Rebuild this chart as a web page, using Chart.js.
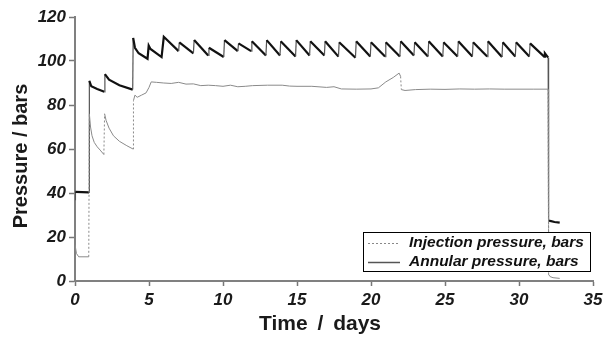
<!DOCTYPE html>
<html>
<head>
<meta charset="utf-8">
<script src="https://cdn.jsdelivr.net/npm/chart.js@4.4.1/dist/chart.umd.min.js"></script>
<style>
  html, body { margin: 0; padding: 0; background: #fff; }
  #caja { width: 609px; height: 338px; }
</style>
</head>
<body>
<div id="caja"><canvas id="grafico" width="609" height="338"></canvas></div>
<script>
// Presión anular (línea negra)
const diasAnular = [0, 0.03, 0.95, 0.97, 1.1, 1.5, 1.98, 2.02, 2.3, 3.0, 3.9, 3.93, 4.05, 4.3, 4.9, 4.98, 5.1, 5.85,
  6.0, 7.0, 7.05, 8.0, 8.05, 9.0, 9.05, 10.05, 10.1, 11.0, 11.05, 11.9, 11.95, 12.9, 12.95, 13.85, 13.9,
  14.9, 14.95, 15.85, 15.9, 16.85, 16.9, 17.8, 17.85, 18.95, 19.0, 19.95, 20.0, 20.95, 21.0, 21.95, 22.0,
  22.9, 22.95, 23.85, 23.9, 24.85, 24.9, 25.85, 25.9, 26.85, 26.9, 27.85, 27.9, 28.85, 28.9, 29.75, 29.8,
  30.7, 30.75, 31.7, 31.75, 31.97, 32.0, 32.1, 32.4, 32.75];
const presionAnular = [37, 40.5, 40.3, 91, 88.5, 87.3, 86, 94, 91.5, 89, 87, 110.5, 106, 103.5, 101, 107, 105.5, 101.8,
  111, 104.5, 108.5, 103.5, 109.5, 102.5, 106, 101.8, 109.5, 104.5, 108, 104.5, 109, 102.5, 109.5, 102.5, 109,
  102, 109.5, 102.5, 109, 102.5, 109, 102, 108.5, 101.5, 109, 102, 108.5, 102, 108.5, 102, 109,
  102.5, 108.5, 102, 109, 102, 108.5, 102, 109, 102, 108.5, 102, 109, 101.8, 108.5, 102, 108.5,
  102, 108, 102, 103.5, 101.5, 27.5, 27.3, 26.8, 26.5];

// Presión de inyección (línea gris punteada)
const diasInyeccion = [0, 0.1, 0.25, 0.93, 0.97, 1.05, 1.15, 1.3, 1.5, 1.7, 1.95, 2.0, 2.1, 2.3, 2.6, 3.0, 3.5, 3.92,
  3.95, 4.05, 4.2, 4.5, 4.8, 5.0, 5.15, 5.5, 6.0, 6.5, 7.0, 7.5, 8.0, 8.5, 9.0, 9.5, 10.0, 10.5, 11.0, 11.5,
  12.0, 13.0, 14.0, 14.5, 15.0, 16.0, 17.0, 17.5, 18.0, 19.0, 20.0, 20.5, 21.0, 21.5, 21.9, 22.0, 22.05,
  22.3, 23, 24, 25, 26, 27, 28, 29, 30, 31, 31.97, 32.0, 32.1, 32.3, 32.75];
const presionInyeccion = [16.5, 12.5, 11, 11, 76, 70, 66, 63, 61, 59.5, 57.5, 76, 73, 69.5, 66, 63.5, 61.5, 60,
  82, 84.5, 83.5, 84.5, 85.5, 88, 90.5, 90.3, 90, 89.8, 90.3, 89.5, 89.6, 88.8, 89, 88.8, 88.5, 89, 88.3, 88.5,
  88.8, 89, 89, 88.6, 88.5, 88.5, 88, 88.3, 87.3, 87.2, 87.3, 87.8, 90.5, 92.5, 94.5, 93, 87,
  86.6, 87, 87.2, 87.1, 87.3, 87.2, 87.3, 87.2, 87.2, 87.2, 87.2, 3, 2, 1.5, 1.2];

const ticksX = [0, 5, 10, 15, 20, 25, 30, 35];
const ticksY = [0, 20, 40, 60, 80, 100, 120];
const tituloX = "Time / days";
const tituloY = "Pressure / bars";
const leyendas = ["Injection pressure, bars", "Annular pressure, bars"];

const fuente = '"Liberation Sans", Arial, Helvetica, sans-serif';

function puntos(xs, ys) {
  return xs.map((x, i) => ({ x: x, y: ys[i] }));
}

// tramos casi verticales se dibujan finos
function esVertical(ctx) {
  return Math.abs(ctx.p1.parsed.x - ctx.p0.parsed.x) < 0.08 && Math.abs(ctx.p1.parsed.y - ctx.p0.parsed.y) > 2;
}

const textos = {
  id: 'textos',
  afterDraw(chart) {
    const c = chart.ctx;
    c.save();
    c.fillStyle = '#1a1a1a';
    c.textAlign = 'center';
    c.textBaseline = 'middle';
    c.font = 'bold 21px ' + fuente;
    c.wordSpacing = '4px';
    c.fillText(tituloX, 320, 324);
    c.wordSpacing = '0px';
    c.translate(21, 156);
    c.rotate(-Math.PI / 2);
    c.font = 'bold 20px ' + fuente;
    c.fillText(tituloY, 0, 0);
    c.restore();

    // leyenda
    c.save();
    c.fillStyle = '#fff';
    c.fillRect(363, 232, 228, 40);
    c.strokeStyle = '#000';
    c.lineWidth = 1;
    c.strokeRect(363.5, 232.5, 227, 39);
    c.strokeStyle = '#888';
    c.setLineDash([2, 2]);
    c.beginPath();
    c.moveTo(368, 243.5);
    c.lineTo(400, 243.5);
    c.stroke();
    c.setLineDash([]);
    c.strokeStyle = '#555';
    c.lineWidth = 1.5;
    c.beginPath();
    c.moveTo(368, 262.5);
    c.lineTo(400, 262.5);
    c.stroke();
    c.fillStyle = '#111';
    c.font = 'italic bold 15.5px ' + fuente;
    c.textAlign = 'left';
    c.textBaseline = 'middle';
    c.fillText(leyendas[0], 409, 243);
    c.fillText(leyendas[1], 409, 262);
    c.restore();
  }
};

const ctx = document.getElementById('grafico').getContext('2d');

const grafico = new Chart(ctx, {
  type: 'scatter',
  data: {
    datasets: [
      {
        label: leyendas[0],
        data: puntos(diasInyeccion, presionInyeccion),
        showLine: true,
        borderColor: '#8a8a8a',
        borderWidth: 1,
        pointRadius: 0,
        segment: {
          borderDash: c => esVertical(c) ? [2, 2] : undefined
        }
      },
      {
        label: leyendas[1],
        data: puntos(diasAnular, presionAnular),
        showLine: true,
        borderColor: '#111',
        borderWidth: 2.2,
        pointRadius: 0,
        segment: {
          borderWidth: c => esVertical(c) ? 1.2 : undefined,
          borderColor: c => esVertical(c) ? '#555' : undefined
        }
      }
    ]
  },
  options: {
    responsive: false,
    animation: false,
    layout: { padding: { top: 17, right: 16, left: 0, bottom: 0 } },
    plugins: {
      legend: { display: false },
      tooltip: { enabled: false }
    },
    scales: {
      x: {
        type: 'linear',
        min: 0,
        max: 35,
        afterBuildTicks: s => { s.ticks = ticksX.map(v => ({ value: v })); },
        afterFit: s => { s.height = 57; },
        border: { color: '#808080', width: 2 },
        grid: { drawOnChartArea: false, drawTicks: true, tickLength: 5, tickColor: '#777', tickWidth: 1.5 },
        ticks: {
          padding: 4,
          color: '#1a1a1a',
          font: { family: fuente, size: 17, style: 'italic', weight: 'bold' }
        }
      },
      y: {
        type: 'linear',
        min: 0,
        max: 120,
        afterBuildTicks: s => { s.ticks = ticksY.map(v => ({ value: v })); },
        afterFit: s => { s.width = 75; },
        border: { color: '#808080', width: 2 },
        grid: { drawOnChartArea: false, drawTicks: true, tickLength: 6, tickColor: '#777', tickWidth: 1.5 },
        ticks: {
          padding: 3,
          color: '#1a1a1a',
          font: { family: fuente, size: 17, style: 'italic', weight: 'bold' }
        }
      }
    }
  },
  plugins: [textos]
});
</script>
</body>
</html>
